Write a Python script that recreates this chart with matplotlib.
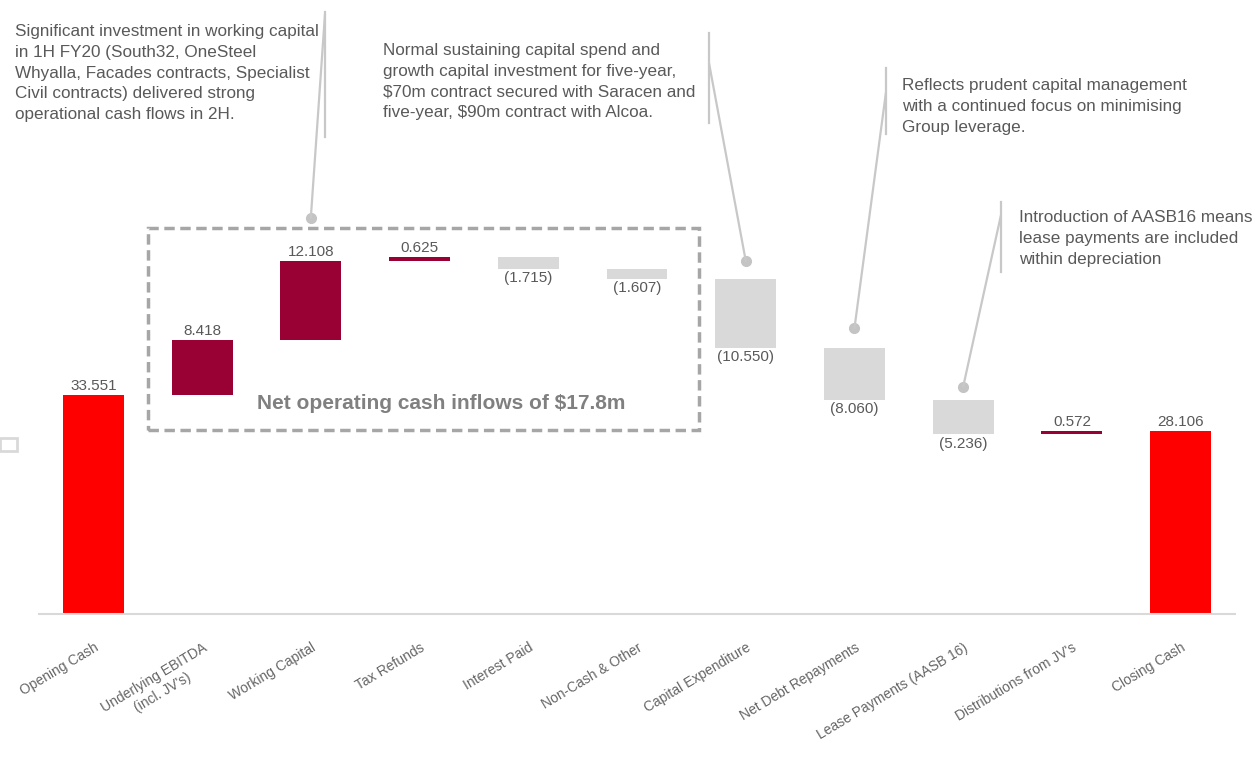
import matplotlib
matplotlib.use("Agg")
import matplotlib.pyplot as plt
from matplotlib.patches import Rectangle
from matplotlib.lines import Line2D

plt.rcParams["font.family"] = ["Liberation Sans", "DejaVu Sans"]

# cash flow bridge, $m
categories = ["Opening Cash", "Underlying EBITDA\n(incl. JV's)", "Working Capital",
              "Tax Refunds", "Interest Paid", "Non-Cash & Other", "Capital Expenditure",
              "Net Debt Repayments", "Lease Payments (AASB 16)", "Distributions from JV's",
              "Closing Cash"]
opening = 33.551
movements = [8.418, 12.108, 0.625, -1.715, -1.607, -10.550, -8.060, -5.236, 0.572]
closing = 28.106

notes = [
    "Significant investment in working capital\nin 1H FY20 (South32, OneSteel\n"
    "Whyalla, Facades contracts, Specialist\nCivil contracts) delivered strong\n"
    "operational cash flows in 2H.",
    "Normal sustaining capital spend and\ngrowth capital investment for five-year,\n"
    "$70m contract secured with Saracen and\nfive-year, $90m contract with Alcoa.",
    "Reflects prudent capital management\nwith a continued focus on minimising\nGroup leverage.",
    "Introduction of AASB16 means\nlease payments are included\nwithin depreciation",
]
box_text = "Net operating cash inflows of $17.8m"

RED = "#FF0000"
POS = "#990033"
NEG = "#D9D9D9"
TXT = "#595959"
LINE = "#C8C8C8"

W, H = 1255, 760


def fx(px):
    return px / W


def fy(py):
    return 1 - py / H


fig = plt.figure(figsize=(W / 100, H / 100), dpi=100)
ax = fig.add_axes([fx(39), fy(614), fx(1235) - fx(39), 614 / H])
ax.set_xlim(-0.5, 10.5)
ax.set_ylim(0, 614 / 6.52)

# waterfall geometry
bottoms, heights, colors, values = [0], [opening], [RED], [opening]
level = opening
for m in movements:
    new = level + m
    bottoms.append(min(level, new))
    heights.append(abs(m))
    colors.append(POS if m > 0 else NEG)
    values.append(m)
    level = new
bottoms.append(0)
heights.append(closing)
colors.append(RED)
values.append(closing)

x = list(range(len(categories)))
ax.bar(x, heights, bottom=bottoms, width=0.56, color=colors, linewidth=0)

for i, v in enumerate(values):
    if v >= 0:
        ax.annotate(f"{v:.3f}", (i, bottoms[i] + heights[i]), xytext=(0, 1.5),
                    textcoords="offset points", ha="center", va="bottom",
                    fontsize=11, color=TXT)
    else:
        ax.annotate(f"({abs(v):.3f})", (i, bottoms[i]), xytext=(0, -1.5),
                    textcoords="offset points", ha="center", va="top",
                    fontsize=11, color=TXT)

for s in ["top", "right", "left"]:
    ax.spines[s].set_visible(False)
ax.spines["bottom"].set_color("#D9D9D9")
ax.spines["bottom"].set_linewidth(1.5)
ax.set_yticks([])
ax.set_xticks(x)
ax.set_xticklabels(categories, rotation=31, ha="right", va="top",
                   rotation_mode="anchor", fontsize=10, color="#666666",
                   multialignment="center", linespacing=1.3)
ax.tick_params(axis="x", length=0, pad=19)

# operating cash flow group
ax.add_patch(Rectangle((0.5, 28.2), 5.07, 31.0, fill=False, edgecolor="#A6A6A6",
                       linewidth=2.5, linestyle=(0, (3, 1.6)), clip_on=False))
ax.text(3.2, 32.3, box_text, ha="center", va="center", fontsize=15,
        fontweight="bold", color="#808080")

# commentary and leader lines
note_pos = [(15, 24), (383, 43), (902, 78), (1019, 210)]
for txt, (px, py) in zip(notes, note_pos):
    fig.text(fx(px), fy(py), txt, ha="left", va="top", fontsize=12.3,
             color=TXT, linespacing=1.48)

leaders = [
    # bar index, gap above bar top, vertical stub x, stub top, stub bottom, join y
    (2, 6.7, 325, 12, 137, 14),
    (6, 2.8, 709, 33, 123, 63),
    (7, 3.0, 886, 68, 134, 92),
    (8, 2.1, 1001, 202, 272, 215),
]
for idx, gap, sx, s_top, s_bot, join in leaders:
    top = bottoms[idx] + heights[idx]
    fig.add_artist(Line2D([fx(sx), fx(sx)], [fy(s_top), fy(s_bot)],
                          transform=fig.transFigure, color=LINE, linewidth=1.6))
    ax.annotate("", xy=(idx, top + gap), xycoords="data",
                xytext=(fx(sx), fy(join)), textcoords="figure fraction",
                arrowprops=dict(arrowstyle="-", color=LINE, linewidth=1.6,
                                shrinkA=0, shrinkB=0), annotation_clip=False)
    ax.plot(idx, top + gap, "o", color="#C4C4C4", markersize=7, clip_on=False)

# stray legend key at the left edge
fig.add_artist(Rectangle((fx(0), fy(451)), fx(17), 13 / H, fill=False,
                         edgecolor="#D9D9D9", linewidth=2, transform=fig.transFigure))

fig.savefig("out.png", dpi=100)
